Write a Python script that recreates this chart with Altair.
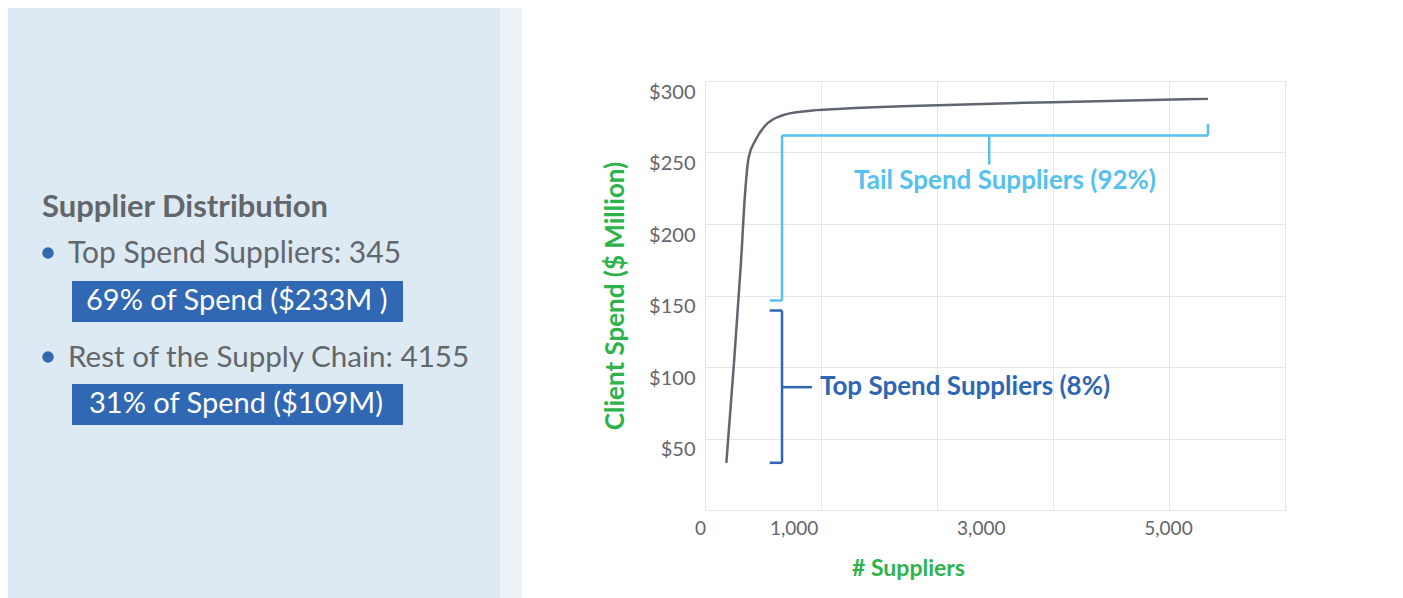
import altair as alt
import pandas as pd

# ---------------- data ----------------
suppliers = [184, 250, 310, 347, 377, 434, 520, 664, 865, 1181, 1700, 3000, 4336]
spend = [33, 103, 173, 223.4, 246.7, 258.4, 268.9, 275.9, 278.9, 280.6, 282.3, 285.2, 287.5]

y_ticks = [50, 100, 150, 200, 250, 300]
x_grid = [1000, 2000, 3000, 4000]
x_tick_labels = [0, 1000, 3000, 5000]

# bracket segments (suppliers, $M)
tail_x = [664, 558, 664, 4336, 2450]
tail_x2 = [664, 664, 4336, 4336, 2450]
tail_y = [146.5, 146.5, 261.9, 261.9, 261.9]
tail_y2 = [261.9, 146.5, 261.9, 270, 241.6]

top_x = [664, 558, 558, 664]
top_x2 = [664, 664, 664, 922]
top_y = [33, 139.5, 33, 85.9]
top_y2 = [139.5, 139.5, 33, 85.9]

tail_label = ["Tail Spend Suppliers (92%)"]
tail_label_pos = [2586, 230.4]
top_label = ["Top Spend Suppliers (8%)"]
top_label_pos = [991, 85.9]

info_title = ["Supplier Distribution"]
info_items = ["Top Spend Suppliers: 345", "Rest of the Supply Chain: 4155"]
info_boxes = ["69% of Spend ($233M )", "31% of Spend ($109M)"]

FONT = "Lato"
GRAY = "#63666a"
GREEN = "#2db34c"
LIGHT_BLUE = "#56c0ee"
DARK_BLUE = "#2f66b2"
LINE = "#5f6670"
GRID = "#e6e6e6"

# ---------------- left info panel ----------------
def txt(s, x, y, size, color, weight="normal"):
    return alt.Chart(pd.DataFrame({"t": [s]})).mark_text(
        align="left", baseline="alphabetic", fontSize=size, font=FONT,
        fontWeight=weight, color=color
    ).encode(x=alt.value(x), y=alt.value(y), text="t:N")

def box(s, y, y2):
    return alt.Chart(pd.DataFrame({"t": [s]})).mark_rect(color="#3068b4").encode(
        x=alt.value(64), x2=alt.value(395), y=alt.value(y), y2=alt.value(y2)
    )

def bullet(s, y):
    return alt.Chart(pd.DataFrame({"t": [s]})).mark_circle(
        size=130, opacity=1, color="#3068b4"
    ).encode(x=alt.value(40), y=alt.value(y))

left = alt.layer(
    txt(info_title[0], 34, 209, 31, GRAY, "bold"),
    bullet(info_items[0], 245),
    txt(info_items[0], 60, 255, 30, GRAY),
    box(info_boxes[0], 273, 314),
    txt(info_boxes[0], 78, 302, 29, "white"),
    bullet(info_items[1], 349),
    txt(info_items[1], 60, 359, 29.6, GRAY),
    box(info_boxes[1], 376, 417),
    txt(info_boxes[1], 81, 405, 29, "white"),
).properties(width=492, height=590,
             view=alt.ViewBackground(fill="#ddeaf4", stroke=None))

gap = alt.Chart(pd.DataFrame({"a": [0]})).mark_point(opacity=0).properties(
    width=22, height=590, view=alt.ViewBackground(fill="#ebf1f5", stroke=None))

# ---------------- right chart ----------------
xs = alt.Scale(domain=[0, 5000], nice=False)
ys = alt.Scale(domain=[0, 300], nice=False)

line_df = pd.DataFrame({"x": suppliers, "y": spend})
line = alt.Chart(line_df).mark_line(
    color=LINE, strokeWidth=2.5, interpolate="monotone"
).encode(
    x=alt.X("x:Q", scale=xs, axis=alt.Axis(
        orient="top", values=x_grid, grid=True, gridColor=GRID, labels=False,
        ticks=False, domain=False, title=None)),
    y=alt.Y("y:Q", scale=ys, axis=alt.Axis(
        values=y_ticks, labelExpr="'$' + datum.value", grid=True, gridColor=GRID,
        domain=False, ticks=False, labelPadding=10, labelOffset=11,
        labelFontSize=20, labelColor=GRAY, labelFont=FONT,
        title="Client Spend ($ Million)", titleColor=GREEN, titleFontSize=26,
        titleFont=FONT, titleFontWeight="bold", titlePadding=20)),
)

tail_df = pd.DataFrame({"x": tail_x, "x2": tail_x2, "y": tail_y, "y2": tail_y2})
top_df = pd.DataFrame({"x": top_x, "x2": top_x2, "y": top_y, "y2": top_y2})

tail_rules = alt.Chart(tail_df).mark_rule(color=LIGHT_BLUE, strokeWidth=2.5).encode(
    x=alt.X("x:Q", scale=xs), x2="x2:Q", y=alt.Y("y:Q", scale=ys), y2="y2:Q")
top_rules = alt.Chart(top_df).mark_rule(color=DARK_BLUE, strokeWidth=2.5).encode(
    x=alt.X("x:Q", scale=xs), x2="x2:Q", y=alt.Y("y:Q", scale=ys), y2="y2:Q")

tail_text = alt.Chart(pd.DataFrame({"t": tail_label, "x": [tail_label_pos[0]],
                                    "y": [tail_label_pos[1]]})).mark_text(
    align="center", baseline="middle", fontSize=26, font=FONT, fontWeight="bold",
    color=LIGHT_BLUE).encode(x=alt.X("x:Q", scale=xs), y=alt.Y("y:Q", scale=ys), text="t:N")
top_text = alt.Chart(pd.DataFrame({"t": top_label, "x": [top_label_pos[0]],
                                   "y": [top_label_pos[1]]})).mark_text(
    align="left", baseline="middle", fontSize=26, font=FONT, fontWeight="bold",
    color=DARK_BLUE).encode(x=alt.X("x:Q", scale=xs), y=alt.Y("y:Q", scale=ys), text="t:N")

inner = alt.layer(line, tail_rules, top_rules, tail_text, top_text)

label_axis = alt.Chart(pd.DataFrame({"v": x_tick_labels})).mark_point(opacity=0).encode(
    x=alt.X("v:Q", scale=alt.Scale(domain=[0, 6197], nice=False), axis=alt.Axis(
        orient="bottom", values=x_tick_labels, labelExpr="format(datum.value, ',')",
        labelFlush=False, labelOffset=-5, labelPadding=9, labelFontSize=19,
        labelColor=GRAY, labelFont=FONT, ticks=False, domain=False, grid=False,
        title="# Suppliers", titleX=203, titleY=65, titleBaseline="alphabetic",
        titleAlign="center", titleColor=GREEN, titleFontSize=23, titleFont=FONT,
        titleFontWeight="bold")),
)

right = alt.layer(inner, label_axis).resolve_scale(x="independent").properties(
    width=580, height=429,
    view=alt.ViewBackground(fill="white", stroke=GRID),
)

spacer = alt.Chart(pd.DataFrame({"a": [0]})).mark_point(opacity=0).properties(
    width=10, height=72, view=alt.ViewBackground(stroke=None))

right_col = alt.vconcat(spacer, right, spacing=0)

chart = alt.hconcat(alt.hconcat(left, gap, spacing=0), right_col, spacing=80).properties(
    padding=0
).configure(font=FONT, background="white")

chart.save("out.html", embed_options={"renderer": "svg", "actions": False})
